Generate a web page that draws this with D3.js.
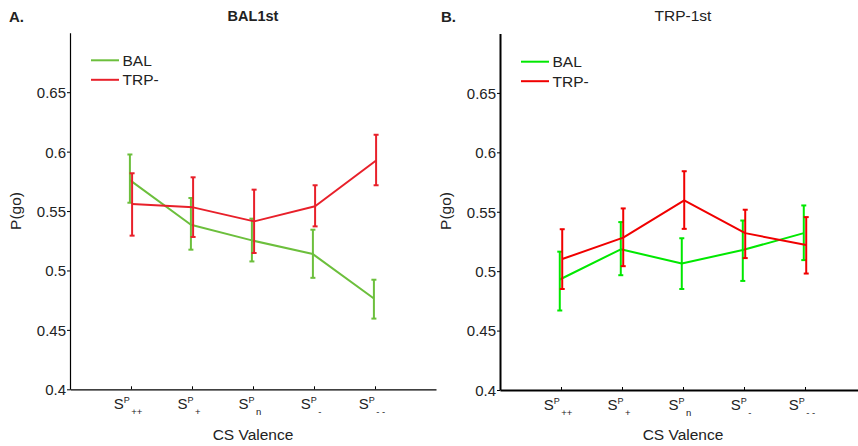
<!DOCTYPE html>
<html>
<head>
<meta charset="utf-8">
<script src="https://cdnjs.cloudflare.com/ajax/libs/d3/7.8.5/d3.min.js"></script>
<style>
  body { margin: 0; background: #fff; }
  text { font-family: "Liberation Sans", Arial, sans-serif; fill: #222; }
</style>
</head>
<body>
<div id="chart"></div>
<script>
// ---- data ----
var categories = [1, 2, 3, 4, 5];
var catSubs = ["++", "+", "n", "-", "- -"];
var seriesNames = ["BAL", "TRP-"];
var yTicks = [0.4, 0.45, 0.5, 0.55, 0.6, 0.65];

// panel A : BAL1st
var balA = [0.576, 0.5385, 0.5253, 0.5138, 0.4764];
var balAHi = [0.5976, 0.561, 0.5436, 0.5343, 0.4922];
var balALo = [0.557, 0.5175, 0.5076, 0.4938, 0.4595];
var trpA = [0.556, 0.5531, 0.5413, 0.554, 0.5925];
var trpAHi = [0.5818, 0.5784, 0.568, 0.5717, 0.6142];
var trpALo = [0.5293, 0.5282, 0.5147, 0.5371, 0.5717];

// panel B : TRP-1st
var balB = [0.493, 0.5184, 0.5065, 0.5178, 0.532];
var balBHi = [0.5164, 0.5413, 0.5277, 0.5426, 0.5553];
var balBLo = [0.4669, 0.4966, 0.485, 0.4918, 0.5093];
var trpB = [0.5102, 0.5282, 0.5596, 0.532, 0.522];
var trpBHi = [0.5353, 0.5528, 0.5841, 0.5517, 0.5455];
var trpBLo = [0.485, 0.5042, 0.5356, 0.511, 0.498];

var svg = d3.select("#chart").append("svg")
  .attr("width", 858)
  .attr("height", 446);

function drawPanel(p) {
  var x = d3.scaleLinear().domain([0, 6]).range([p.left, p.left + 366]);
  var y = d3.scaleLinear().domain([0.4, 0.7]).range([p.bottom, p.bottom - 356.5]);

  var g = svg.append("g");

  // y axis (ticks outward)
  var yAxis = g.append("g")
    .attr("transform", "translate(" + p.left + ",0)")
    .call(d3.axisLeft(y).tickValues(yTicks).tickSize(3).tickSizeOuter(0)
      .tickFormat(function(d) { return String(+d.toFixed(2)); }));
  // x axis (ticks point inward)
  var xAxis = g.append("g")
    .attr("transform", "translate(0," + p.bottom + ")")
    .call(d3.axisBottom(x).tickValues(categories).tickSize(-3).tickSizeOuter(0).tickFormat(""));

  [yAxis, xAxis].forEach(function(a) {
    a.select(".domain").attr("stroke", "#000").attr("stroke-width", p.axisW);
    a.selectAll(".tick line").attr("stroke", "#000").attr("stroke-width", 1);
  });
  yAxis.selectAll(".tick text")
    .attr("x", -4)
    .attr("dy", "0.36em")
    .style("font-size", "15px")
    .style("font-family", "Liberation Sans, Arial, sans-serif")
    .attr("fill", "#222");

  // category labels S^P_sub
  var lab = g.selectAll(".catlab")
    .data(categories)
    .enter()
    .append("text")
    .attr("class", "catlab")
    .attr("x", function(d) { return x(d) - 3; })
    .attr("y", p.bottom + 20)
    .attr("text-anchor", "middle")
    .style("font-size", "15px");
  lab.append("tspan").text("S");
  lab.append("tspan").attr("dy", -6).style("font-size", "9px").text("P");
  lab.append("tspan").attr("dy", 12).attr("dx", 1.5).style("font-size", "9.5px")
    .text(function(d, i) { return catSubs[i]; });

  // axis labels and titles
  g.append("text")
    .attr("x", x(3))
    .attr("y", 440)
    .attr("text-anchor", "middle")
    .style("font-size", "15.5px")
    .text("CS Valence");

  g.append("text")
    .attr("transform", "translate(" + p.ylabX + ",211) rotate(-90)")
    .attr("text-anchor", "middle")
    .style("font-size", "15.5px")
    .text("P(go)");

  g.append("text")
    .attr("x", x(3))
    .attr("y", 21)
    .attr("text-anchor", "middle")
    .style("font-size", p.titleSize)
    .style("font-weight", p.titleWeight)
    .text(p.title);

  g.append("text")
    .attr("x", p.letterX)
    .attr("y", 22)
    .style("font-size", "15px")
    .style("font-weight", "bold")
    .text(p.letter);

  // series: line + error bars
  p.series.forEach(function(s, si) {
    var pts = categories.map(function(c, i) {
      return { x: c + s.dodge, m: s.mean[i], hi: s.hi[i], lo: s.lo[i] };
    });

    var line = d3.line()
      .x(function(d) { return x(d.x); })
      .y(function(d) { return y(d.m); });

    g.append("path")
      .datum(pts)
      .attr("d", line)
      .attr("fill", "none")
      .attr("stroke", s.color)
      .attr("stroke-width", 2)
      .attr("stroke-linejoin", "round");

    var eb = g.append("g").selectAll("g")
      .data(pts)
      .enter()
      .append("g")
      .attr("stroke", s.color)
      .attr("stroke-width", 2);
    eb.append("line")
      .attr("x1", function(d) { return x(d.x); })
      .attr("x2", function(d) { return x(d.x); })
      .attr("y1", function(d) { return y(d.hi); })
      .attr("y2", function(d) { return y(d.lo); });
    eb.append("line")
      .attr("x1", function(d) { return x(d.x) - 2.5; })
      .attr("x2", function(d) { return x(d.x) + 2.5; })
      .attr("y1", function(d) { return y(d.hi); })
      .attr("y2", function(d) { return y(d.hi); });
    eb.append("line")
      .attr("x1", function(d) { return x(d.x) - 2.5; })
      .attr("x2", function(d) { return x(d.x) + 2.5; })
      .attr("y1", function(d) { return y(d.lo); })
      .attr("y2", function(d) { return y(d.lo); });

    // legend entry
    var ly = p.legendY + si * 19.5;
    g.append("line")
      .attr("x1", p.left + 21)
      .attr("x2", p.left + 49)
      .attr("y1", ly)
      .attr("y2", ly)
      .attr("stroke", s.color)
      .attr("stroke-width", 2);
    g.append("text")
      .attr("x", p.left + 52.5)
      .attr("y", ly + 5.5)
      .style("font-size", "15.5px")
      .text(s.name);
  });
}

drawPanel({
  left: 70, bottom: 389.3, axisW: 1.2, ylabX: 21, letterX: 9, letter: "A.",
  title: "BAL1st", titleSize: "14.5px", titleWeight: "bold", legendY: 60.3,
  series: [
    { name: seriesNames[0], mean: balA, hi: balAHi, lo: balALo, color: "#6cbf3c", dodge: -0.018 },
    { name: seriesNames[1], mean: trpA, hi: trpAHi, lo: trpALo, color: "#e8202a", dodge: 0.018 }
  ]
});

drawPanel({
  left: 500, bottom: 390, axisW: 2, ylabX: 451, letterX: 441, letter: "B.",
  title: "TRP-1st", titleSize: "15.5px", titleWeight: "normal", legendY: 61.7,
  series: [
    { name: seriesNames[0], mean: balB, hi: balBHi, lo: balBLo, color: "#00e800", dodge: -0.02 },
    { name: seriesNames[1], mean: trpB, hi: trpBHi, lo: trpBLo, color: "#f00000", dodge: 0.02 }
  ]
});
</script>
</body>
</html>
